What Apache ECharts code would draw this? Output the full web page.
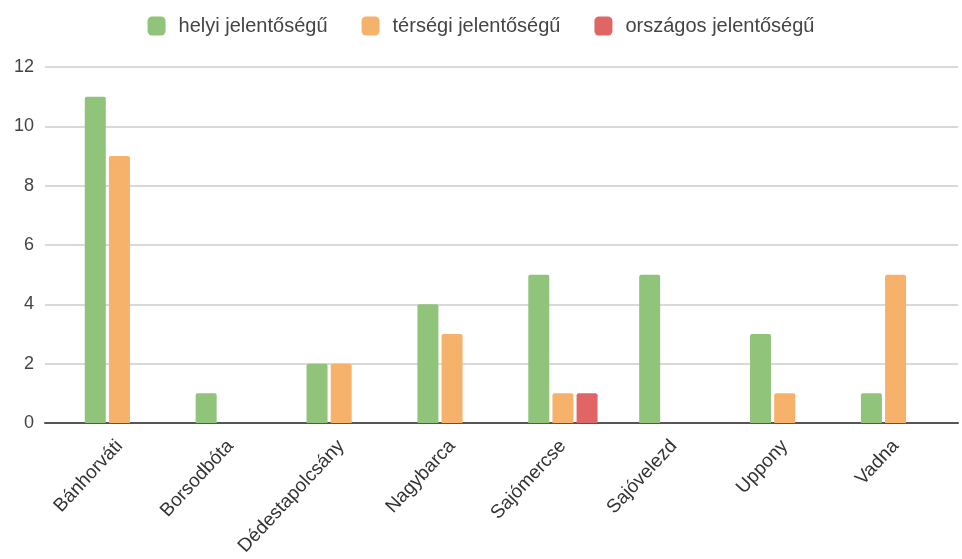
<!DOCTYPE html>
<html><head><meta charset="utf-8">
<script src="https://cdn.jsdelivr.net/npm/echarts@6/dist/echarts.min.js"></script>
<style>html,body{margin:0;padding:0;background:#fff}#c{width:962px;height:559px}</style>
</head><body><div id="c"></div>
<script>
const categories = ['Bánhorváti','Borsodbóta','Dédestapolcsány','Nagybarca','Sajómercse','Sajóvelezd','Uppony','Vadna'];
const seriesNames = ['helyi jelentőségű','térségi jelentőségű','országos jelentőségű'];
const helyi = [11,1,2,4,5,5,3,1];
const tersegi = [9,0,2,3,1,0,1,5];
const orszagos = [0,0,0,0,1,0,0,0];
const yTicks = [0,2,4,6,8,10,12];
const colors = ['#8fc47a','#f6b26b','#e06666'];
const font = '"Liberation Sans", Arial, sans-serif';

const chart = echarts.init(document.getElementById('c'));
const bar = (name, data, color) => ({
  name, type:'bar', data, xAxisIndex:0, yAxisIndex:0,
  barWidth:21, barGap:'15%',
  itemStyle:{color, borderRadius:[2,2,0,0]}
});
chart.setOption({
  animation:false,
  textStyle:{fontFamily:font},
  legend:{
    top:11, left:'center', itemWidth:18, itemHeight:19, itemGap:34,
    icon:'roundRect',
    textStyle:{fontFamily:font, fontSize:20, color:'#444', padding:[0,0,0,8]},
    data:seriesNames
  },
  grid:[
    {left:64, right:11, top:67, bottom:136},
    {left:45, right:4, top:67, bottom:136}
  ],
  xAxis:[
    {type:'category', gridIndex:0, data:categories, z:5,
     axisLine:{show:false}, axisTick:{show:false},
     axisLabel:{rotate:47, fontSize:19, color:'#333', fontFamily:font, margin:20, interval:0}},
    {type:'value', gridIndex:1, min:0, max:1, show:true,
     axisLabel:{show:false}, axisTick:{show:false}, splitLine:{show:false},
     axisLine:{show:true, lineStyle:{color:'#555', width:2}}}
  ],
  yAxis:[
    {type:'value', gridIndex:0, min:0, max:12, interval:2, show:false},
    {type:'value', gridIndex:1, min:yTicks[0], max:yTicks[yTicks.length-1], interval:2,
     axisLine:{show:false}, axisTick:{show:false},
     axisLabel:{fontSize:18, color:'#444', fontFamily:font, margin:11},
     splitLine:{lineStyle:{color:'#d9d9d9', width:2}}}
  ],
  series:[
    bar(seriesNames[0], helyi, colors[0]),
    bar(seriesNames[1], tersegi, colors[1]),
    bar(seriesNames[2], orszagos, colors[2])
  ]
});
</script></body></html>
